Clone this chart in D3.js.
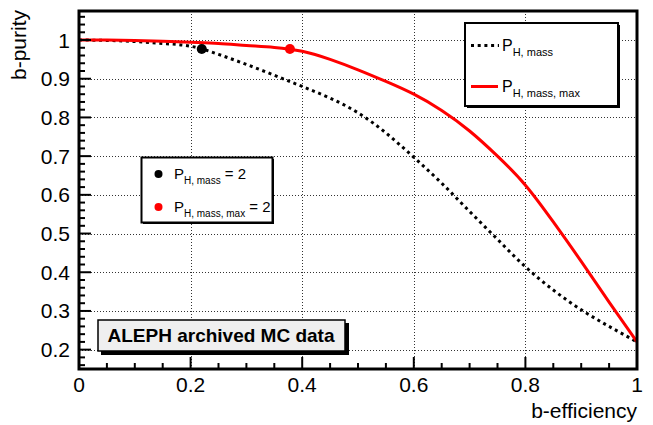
<!DOCTYPE html>
<html><head><meta charset="utf-8">
<script src="https://cdn.jsdelivr.net/npm/d3@7"></script>
<style>body{margin:0;background:#fff}svg{display:block;font-family:"Liberation Sans",Arial,Helvetica,sans-serif}</style>
</head><body><svg id="c" width="653" height="425"></svg>
<script>
// ---- data ----
const efficiency    = [0,0.05,0.1,0.15,0.2,0.25,0.3,0.35,0.4,0.45,0.5,0.55,0.6,0.65,0.7,0.75,0.8,0.85,0.9,0.95,1.0];
const purityMass    = [1.0,0.999,0.996,0.991,0.984,0.963,0.937,0.909,0.880,0.850,0.812,0.760,0.697,0.630,0.557,0.485,0.414,0.354,0.303,0.260,0.220];
const purityMassMax = [1.0,1.0,0.999,0.997,0.994,0.991,0.986,0.981,0.971,0.950,0.923,0.893,0.860,0.818,0.765,0.700,0.625,0.530,0.428,0.323,0.220];
const markerEff     = [0.22, 0.378];
const markerPurity  = [0.977, 0.977];
const markerColors  = ["#000000", "#ff0000"];
const xTickValues   = [0,0.2,0.4,0.6,0.8,1];
const xTickLabels   = ["0","0.2","0.4","0.6","0.8","1"];
const yTickValues   = [0.2,0.3,0.4,0.5,0.6,0.7,0.8,0.9,1];
const yTickLabels   = ["0.2","0.3","0.4","0.5","0.6","0.7","0.8","0.9","1"];

const svg = d3.select("#c");
const L = 79, R = 637, T = 11, B = 369;
const x = d3.scaleLinear().domain([0,1]).range([L,R]);
const y = d3.scaleLinear().domain([0.15,1.075]).range([B,T]);

svg.append("rect").attr("width",653).attr("height",425).attr("fill","#fff");

// grid
const grid = svg.append("g").attr("stroke","#333").attr("stroke-width",1).attr("stroke-dasharray","1,2");
grid.selectAll("line.gx").data(xTickValues.filter(v=>v>0&&v<1)).join("line")
  .attr("x1",d=>Math.round(x(d))+0.5).attr("x2",d=>Math.round(x(d))+0.5).attr("y1",T).attr("y2",B);
grid.selectAll("line.gy").data(yTickValues).join("line")
  .attr("y1",d=>Math.round(y(d))+0.5).attr("y2",d=>Math.round(y(d))+0.5).attr("x1",L).attr("x2",R);

// clip
svg.append("clipPath").attr("id","clip").append("rect").attr("x",L).attr("y",T).attr("width",R-L).attr("height",B-T);

const line = (vals)=> d3.line().x((d,i)=>x(efficiency[i])).y(d=>y(d)).curve(d3.curveNatural)(vals);
const curves = svg.append("g").attr("clip-path","url(#clip)");
curves.append("path").attr("d",line(purityMass)).attr("fill","none").attr("stroke","#000")
  .attr("stroke-width",3).attr("stroke-dasharray","3,3.7");
curves.append("path").attr("d",line(purityMassMax)).attr("fill","none").attr("stroke","#ff0000")
  .attr("stroke-width",3);
curves.selectAll("circle").data(markerEff).join("circle")
  .attr("cx",d=>x(d)).attr("cy",(d,i)=>y(markerPurity[i])).attr("r",5).attr("fill",(d,i)=>markerColors[i]);

// ALEPH box
const ab = svg.append("g");
ab.append("rect").attr("x",101).attr("y",323).attr("width",248).attr("height",32).attr("fill","#000");
ab.append("rect").attr("x",98).attr("y",320).attr("width",247).attr("height",31).attr("fill","#efefef")
  .attr("stroke","#000").attr("stroke-width",1.5);
ab.append("text").attr("x",221).attr("y",342).attr("text-anchor","middle")
  .attr("font-size",19).attr("font-weight","bold").text("ALEPH archived MC data");

// legend 1
const l1 = svg.append("g");
l1.append("rect").attr("x",467).attr("y",25).attr("width",153).attr("height",83).attr("fill","#000");
l1.append("rect").attr("x",465).attr("y",23).attr("width",153).attr("height",83).attr("fill","#fff")
  .attr("stroke","#000").attr("stroke-width",2);
l1.append("line").attr("x1",471).attr("x2",499).attr("y1",45.5).attr("y2",45.5)
  .attr("stroke","#000").attr("stroke-width",3).attr("stroke-dasharray","3,3.7");
l1.append("line").attr("x1",471).attr("x2",498).attr("y1",86.5).attr("y2",86.5)
  .attr("stroke","#ff0000").attr("stroke-width",3);
function pLabel(g, xx, yy, sub, tail, fs, ss){
  const t = g.append("text").attr("x",xx).attr("y",yy).attr("font-size",fs);
  t.append("tspan").text("P");
  t.append("tspan").attr("dy",5).attr("font-size",ss).text(sub);
  if (tail) t.append("tspan").attr("dy",-5).text(tail);
}
pLabel(l1, 502, 51, "H, mass", null, 16, 11);
pLabel(l1, 502, 92, "H, mass, max", null, 16, 11);

// legend 2
const l2 = svg.append("g");
l2.append("rect").attr("x",143).attr("y",159).attr("width",131).attr("height",65).attr("fill","#000");
l2.append("rect").attr("x",141.5).attr("y",157.5).attr("width",131).attr("height",65).attr("fill","#fff")
  .attr("stroke","#000").attr("stroke-width",2);
l2.selectAll("circle").data(markerColors).join("circle")
  .attr("cx",158.5).attr("cy",(d,i)=>[174,207][i]).attr("r",4).attr("fill",d=>d);
pLabel(l2, 174, 178.5, "H, mass", " = 2", 15, 10);
pLabel(l2, 174, 211.5, "H, mass, max", " = 2", 15, 10);

// axes ticks
const ax = svg.append("g").attr("stroke","#000").attr("stroke-width",2);
const xMinor = d3.range(0,1.0001,0.05);
ax.selectAll("line.xt").data(xMinor).join("line")
  .attr("x1",d=>x(d)).attr("x2",d=>x(d)).attr("y1",B)
  .attr("y2",d=>B-(Math.abs(d*5-Math.round(d*5))<1e-6?12:6));
const yMinor = d3.range(0.16,1.0701,0.02);
ax.selectAll("line.yt").data(yMinor).join("line")
  .attr("y1",d=>y(d)).attr("y2",d=>y(d)).attr("x1",L)
  .attr("x2",d=>L+(Math.abs(d*10-Math.round(d*10))<1e-6?12:6));

// frame
svg.append("rect").attr("x",L).attr("y",T).attr("width",R-L).attr("height",B-T)
  .attr("fill","none").attr("stroke","#000").attr("stroke-width",3);

// tick labels
svg.selectAll("text.xl").data(xTickValues).join("text").attr("class","xl")
  .attr("x",d=>x(d)).attr("y",392).attr("text-anchor","middle").attr("font-size",21)
  .text((d,i)=>xTickLabels[i]);
svg.selectAll("text.yl").data(yTickValues).join("text").attr("class","yl")
  .attr("x",70).attr("y",d=>y(d)+7.5).attr("text-anchor","end").attr("font-size",21)
  .text((d,i)=>yTickLabels[i]);

// axis titles
svg.append("text").attr("x",R).attr("y",418).attr("text-anchor","end").attr("font-size",21).text("b-efficiency");
svg.append("text").attr("transform","translate(26,10) rotate(-90)").attr("text-anchor","end")
  .attr("font-size",21).text("b-purity");
</script></body></html>
